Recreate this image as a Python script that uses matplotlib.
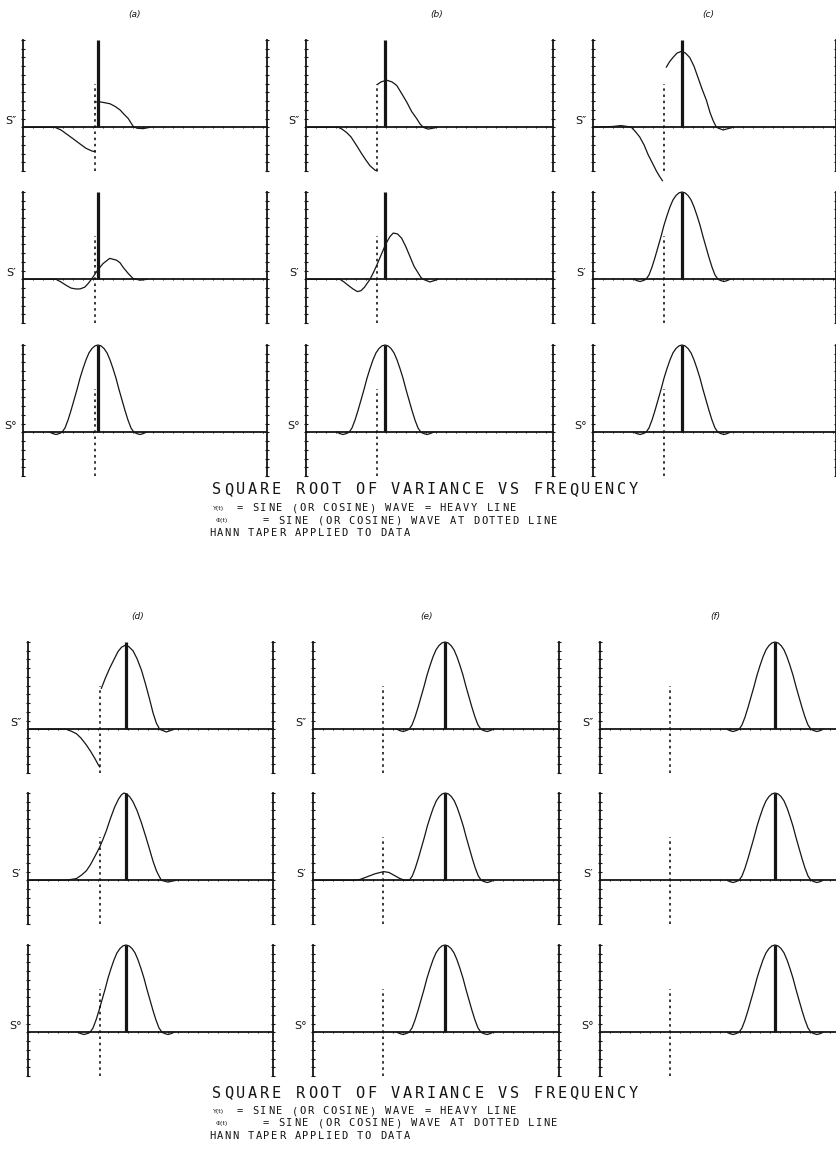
import numpy as np
import matplotlib
matplotlib.use("Agg")
import matplotlib.pyplot as plt

FIG_W, FIG_H = 837, 1154
INK = "#151515"
nan = np.nan

# spectral window shape (offset from the heavy line, amplitude / full scale)
BELL_DX = [-48, -45, -42, -39, -36, -33, -30, -27, -24, -21, -18, -15, -12, -9, -6, -3, 0,
           3, 6, 9, 12, 15, 18, 21, 24, 27, 30, 33, 36, 39, 42, 45, 48]
BELL_Y = [0, -0.015, -0.025, -0.015, 0, 0.05, 0.14, 0.25, 0.37, 0.49, 0.62, 0.73, 0.83,
          0.91, 0.96, 0.99, 1.0, 0.99, 0.96, 0.91, 0.83, 0.73, 0.62, 0.49, 0.37, 0.25,
          0.14, 0.05, 0, -0.015, -0.025, -0.015, 0]

# curves that are not the plain window (x = frequency index, y = amplitude)
A1_X = [0, 32, 38, 44, 50, 57, 63, 68.7, 72, nan,
        72.5, 78, 87, 92, 97, 101, 105.3, 108, 110.3, 114, 120, 127]
A1_Y = [0, 0, -0.03, -0.08, -0.13, -0.19, -0.24, -0.27, -0.28, nan,
        0.29, 0.29, 0.27, 0.24, 0.2, 0.15, 0.1, 0.05, 0.01, -0.01, -0.015, 0]

A2_X = [0, 33, 38, 43.4, 48, 52.7, 57, 61.7, 65, 68.4, 72, 75, 80, 86.7,
        93.4, 97, 100, 105, 110, 117, 124]
A2_Y = [0, 0, -0.03, -0.07, -0.1, -0.11, -0.11, -0.09, -0.05, 0, 0.06, 0.11,
        0.18, 0.24, 0.22, 0.19, 0.14, 0.07, 0.01, -0.01, 0]

B1_X = [0, 32.3, 36, 40.7, 45, 50.7, 55, 59, 64, 69, 71, nan,
        71.3, 75, 80.7, 86, 90.7, 95.5, 100.7, 105.7, 110.7, 114, 117.3, 122, 127, 131]
B1_Y = [0, 0, -0.02, -0.06, -0.11, -0.21, -0.29, -0.36, -0.44, -0.49, -0.5, nan,
        0.49, 0.52, 0.54, 0.52, 0.48, 0.39, 0.29, 0.18, 0.1, 0.04, 0, -0.02, -0.01, 0]

B2_X = [0, 34, 38, 42.3, 47, 51.3, 55, 58.5, 61.5, 64, 67.5, 70.7, 75.5, 80, 84,
        87.3, 91.5, 95.7, 100, 104, 108, 112.3, 115, 117.3, 124, 132]
B2_Y = [0, 0, -0.03, -0.07, -0.11, -0.14, -0.13, -0.09, -0.04, 0, 0.08, 0.16,
        0.29, 0.41, 0.49, 0.53, 0.52, 0.47, 0.37, 0.26, 0.15, 0.07, 0.02, 0, -0.03, 0]

C1_X = [0, 20, 28, 34, 38.4, 42.5, 46.7, 51, 55, 59, 63.4, 66.5, 69.4, nan,
        73.4, 76.5, 80, 84, 88.4, 92.5, 96.7, 101, 105, 109, 113.4, 117, 120,
        123.4, 130, 140]
C1_Y = [0, 0.01, 0.02, 0.01, 0, -0.05, -0.11, -0.2, -0.31, -0.4, -0.5, -0.56, -0.61, nan,
        0.69, 0.75, 0.8, 0.85, 0.87, 0.85, 0.8, 0.7, 0.57, 0.44, 0.31, 0.17, 0.08,
        0, -0.03, 0]

D1_X = [0, 38.4, 43, 48.4, 53, 58.4, 62.5, 66.7, 70, 71.7, nan,
        73.4, 77.5, 81.7, 86, 90, 93.5, 96.7, 100.5, 105, 109, 113.4, 117.5, 121.7,
        125, 128.4, 131.7, 138.4, 146]
D1_Y = [0, 0, -0.02, -0.05, -0.1, -0.18, -0.25, -0.33, -0.4, -0.43, nan,
        0.47, 0.59, 0.7, 0.8, 0.89, 0.94, 0.96, 0.95, 0.9, 0.81, 0.68, 0.52, 0.34,
        0.19, 0.07, 0, -0.03, 0]

D2_X = [0, 36.7, 43, 48.4, 53.5, 58.4, 62.5, 66.7, 71.7, 75, 78.4, 82.5, 86.7,
        90.5, 93.5, 96, 98.5, 101.5, 105, 109, 113.4, 117.5, 121.7, 125, 128.4,
        131, 133.4, 140, 148]
D2_Y = [0, 0, 0.01, 0.02, 0.06, 0.11, 0.18, 0.27, 0.38, 0.47, 0.57, 0.71, 0.84,
        0.93, 0.98, 1.0, 0.99, 0.96, 0.9, 0.8, 0.66, 0.51, 0.35, 0.22, 0.11,
        0.05, 0, -0.02, 0]

E2_X = [0, 40.7, 47, 54, 62, 70.7, 76, 82.3, 87, 92, 96.3, 99.3, 102.3, 105.3,
        108.3, 111.3, 114.3, 117.3, 120.3, 123.3, 126.3, 129.3, 132.3, 135.3,
        138.3, 141.3, 144.3, 147.3, 150.3, 153.3, 156.3, 159.3, 162.3, 165.3,
        168.3, 171.3, 174.3, 177.3, 180.3]
E2_Y = [0, 0, 0.01, 0.04, 0.075, 0.1, 0.09, 0.05, 0.02, 0, 0, 0.05, 0.14, 0.25,
        0.37, 0.49, 0.62, 0.73, 0.83, 0.91, 0.96, 0.99, 1.0, 0.99, 0.96, 0.91,
        0.83, 0.73, 0.62, 0.49, 0.37, 0.25, 0.14, 0.05, 0, -0.015, -0.025, -0.015, 0]

TOP_HEAVY = [75, 79, 89]
TOP_DOTTED = [72, 71, 71]
BOT_HEAVY = [98, 132, 175]
BOT_DOTTED = [72, 70, 70]

# None -> plain window centred on the heavy line
TOP_CURVES = [[(A1_X, A1_Y), (B1_X, B1_Y), (C1_X, C1_Y)],
              [(A2_X, A2_Y), (B2_X, B2_Y), None],
              [None, None, None]]
BOT_CURVES = [[(D1_X, D1_Y), None, None],
              [(D2_X, D2_Y), (E2_X, E2_Y), None],
              [None, None, None]]

TOP_NAMES = ["(a)", "(b)", "(c)"]
BOT_NAMES = ["(d)", "(e)", "(f)"]
ROW_LABELS = ["S\u2033", "S\u2032", "S\u00b0"]

TITLE = "SQUARE ROOT OF VARIANCE VS FREQUENCY"
NOTE_TAGS = ["Y(t)", "\u03a6(t)", ""]
NOTE_LINES = ["= SINE (OR COSINE) WAVE = HEAVY LINE",
              "= SINE (OR COSINE) WAVE AT DOTTED LINE",
              "HANN TAPER APPLIED TO DATA"]


def px(x, y):
    return x / FIG_W, 1 - y / FIG_H


def panel(fig, left, top, width, heavy, dotted, curve, ylabel):
    ax = fig.add_axes([left / FIG_W, 1 - (top + 131) / FIG_H, width / FIG_W, 131 / FIG_H])
    ax.set_xlim(0, width)
    ax.set_ylim(-0.5, 1.0)
    ax.patch.set_visible(False)
    ax.spines["top"].set_visible(False)
    ax.spines["bottom"].set_position(("data", 0))
    for s in ("left", "right", "bottom"):
        ax.spines[s].set_linewidth(1.3)
        ax.spines[s].set_color(INK)
    ax.set_yticks(np.arange(-0.5, 1.001, 0.1))
    ax.set_xticks(np.arange(0, width, 10))
    ax.tick_params(axis="y", left=True, right=True, direction="inout", length=2.5,
                   width=0.8, color=INK, labelleft=False)
    ax.tick_params(axis="x", direction="inout", length=2, width=0.7, color=INK,
                   labelbottom=False)

    if curve is None:
        cx = [heavy + d for d in BELL_DX]
        cy = BELL_Y
    else:
        cx, cy = curve
    ax.plot(cx, cy, color=INK, lw=0.9, clip_on=False)
    ax.plot([heavy, heavy], [0, 1.0], color=INK, lw=2.3, solid_capstyle="butt")
    ax.plot([dotted, dotted], [-0.5, 0.5], color=INK, lw=1.2, ls=(0, (1.5, 2.2)))
    ax.text(-0.05, 0.07, ylabel, transform=ax.get_yaxis_transform(), ha="center",
            va="center", fontsize=8, color=INK)
    return ax


def spaced_text(fig, s, x0, y, pitch, size):
    for i, ch in enumerate(s):
        if ch == " ":
            continue
        fig.text(*px(x0 + i * pitch, y), ch, ha="center", va="center",
                 family="DejaVu Sans Mono", fontsize=size, color=INK)


def block(fig, lefts, widths, tops, heavies, dotteds, curves, names, name_x, title_y):
    for c in range(3):
        fig.text(*px(name_x[c], tops[0] - 25), names[c], ha="center", va="center",
                 fontsize=6.5, style="italic", color=INK)
        for r in range(3):
            panel(fig, lefts[c], tops[r], widths[c], heavies[c], dotteds[c],
                  curves[r][c], ROW_LABELS[r])

    spaced_text(fig, TITLE, 217, title_y, 11.9, 11)
    starts = [240, 266, 212]
    tag_x = [219, 222, 0]
    for k in range(3):
        y = title_y + 18 + 12.5 * k
        if NOTE_TAGS[k]:
            fig.text(*px(tag_x[k], y), NOTE_TAGS[k], ha="center", va="center",
                     fontsize=4.5, color=INK)
        spaced_text(fig, NOTE_LINES[k], starts[k], y, 7.8, 7.5)


fig = plt.figure(figsize=(FIG_W / 100, FIG_H / 100), dpi=100)
fig.patch.set_facecolor("white")

block(fig, [23, 306, 593], [244, 247, 243], [40, 192, 345],
      TOP_HEAVY, TOP_DOTTED, TOP_CURVES, TOP_NAMES, [135, 437, 708], 490)
block(fig, [28, 313, 600], [245, 246, 245], [642, 793, 945],
      BOT_HEAVY, BOT_DOTTED, BOT_CURVES, BOT_NAMES, [138, 427, 715], 1093)

fig.savefig("out.png", dpi=100, facecolor="white")
